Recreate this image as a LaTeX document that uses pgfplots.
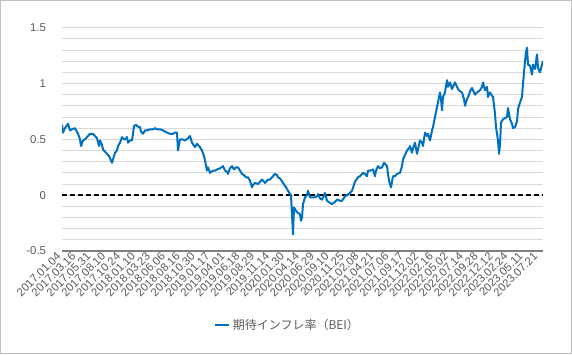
\documentclass[border=0pt]{standalone}
\usepackage{pgfplots}
\pgfplotsset{compat=1.18}
\usepackage{fontspec}
\setmainfont{Liberation Sans}
\newfontfamily\cjk{Noto Sans CJK JP}
\definecolor{txt}{HTML}{595959}
\definecolor{gridc}{HTML}{D9D9D9}
\definecolor{axisc}{HTML}{7F7F7F}
\definecolor{framec}{HTML}{BFBFBF}
\definecolor{bei}{HTML}{0070C0}
\begin{document}
\begin{tikzpicture}
\draw[framec, line width=0.75pt] (0.375pt,0.375pt) rectangle (428.625pt,265.125pt);
\begin{axis}[
  at={(46.5pt,77.25pt)}, anchor=south west,
  scale only axis, width=360.75pt, height=167.5pt,
  xmin=0, xmax=481, ymin=-0.5, ymax=1.5,
  axis x line*=bottom, axis y line*=left,
  x axis line style={-, draw=axisc, line width=1.1pt},
  y axis line style={draw=none},
  tick style={draw=none},
  ytick={-0.5,0,0.5,1,1.5},
  yticklabels={-0.5,0,0.5,1,1.5},
  minor ytick={-0.4,-0.3,-0.2,-0.1,0.1,0.2,0.3,0.4,0.6,0.7,0.8,0.9,1.1,1.2,1.3,1.4},
  ymajorgrids, yminorgrids,
  major grid style={gridc, line width=0.75pt},
  minor grid style={gridc, line width=0.75pt},
  yticklabel style={font=\fontsize{8.5}{10}\selectfont, text=txt, xshift=-8.5pt},
  xtick={0,14.9,29.8,44.7,59.6,74.5,89.4,104.3,119.2,134.1,149,163.9,178.8,193.7,208.6,223.5,238.4,253.3,268.2,283.1,298,312.9,327.8,342.7,357.6,372.5,387.4,402.3,417.2,432.1,447,461.9,476.8},
  xticklabels={2017.01.04,2017.03.16,2017.05.31,2017.08.10,2017.10.24,2018.01.10,2018.03.23,2018.06.06,2018.08.16,2018.10.30,2019.01.17,2019.04.01,2019.06.18,2019.08.29,2019.11.14,2020.01.30,2020.04.14,2020.06.29,2020.09.10,2020.11.25,2021.02.08,2021.04.21,2021.07.06,2021.09.17,2021.12.02,2022.02.16,2022.05.02,2022.07.14,2022.09.28,2022.12.12,2023.02.24,2023.05.11,2023.07.21},
  xticklabel style={font=\fontsize{8.5}{10}\selectfont, text=txt, rotate=45, anchor=east},
  legend style={at={(0.469,-0.332)}, anchor=center, draw=none, fill=none,
    font=\fontsize{9}{11}\selectfont, text=txt},
  legend image code/.code={\draw[#1, line width=1.5pt] (0pt,0pt) -- (11pt,0pt);},
]
\addplot[forget plot, black, line width=1.1pt, dash pattern=on 3.75pt off 2.25pt] coordinates {(0,0) (481,0)};
\addplot[bei, line width=1.5pt, line join=round] coordinates {
(0,0.63)(1,0.56)(3,0.60)(6,0.64)(8,0.58)(10,0.59)(13,0.60)(16,0.55)(18,0.50)(19,0.44)(21,0.49)(23,0.50)(26,0.53)(28,0.55)(31,0.55)(33,0.53)(35,0.51)(37,0.44)(38,0.49)(40,0.45)(41,0.41)(43,0.39)(45,0.37)(47,0.35)(48,0.33)(50,0.29)(51,0.32)(53,0.38)(55,0.40)(56,0.44)(58,0.47)(60,0.52)(62,0.50)(63,0.50)(65,0.52)(66,0.47)(68,0.49)(70,0.49)(71,0.55)(72,0.62)(74,0.63)(75,0.62)(77,0.61)(78,0.61)(79,0.57)(81,0.55)(83,0.58)(85,0.58)(88,0.59)(91,0.59)(93,0.60)(95,0.59)(98,0.59)(101,0.58)(103,0.57)(105,0.56)(108,0.55)(111,0.55)(113,0.56)(115,0.56)(116,0.40)(118,0.50)(120,0.50)(123,0.49)(126,0.51)(128,0.53)(129,0.50)(130,0.47)(133,0.43)(135,0.46)(136,0.45)(138,0.43)(140,0.40)(142,0.35)(143,0.31)(145,0.22)(146,0.25)(148,0.20)(151,0.22)(153,0.22)(155,0.23)(158,0.24)(161,0.26)(163,0.22)(165,0.21)(166,0.19)(168,0.24)(170,0.26)(172,0.23)(174,0.25)(176,0.25)(178,0.22)(180,0.19)(182,0.18)(184,0.16)(186,0.16)(188,0.13)(190,0.07)(191,0.09)(193,0.11)(196,0.10)(198,0.12)(200,0.14)(203,0.11)(206,0.14)(208,0.14)(211,0.17)(213,0.19)(215,0.18)(216,0.16)(218,0.15)(221,0.11)(224,0.07)(226,0.04)(228,0.01)(229,0.0)(230,-0.17)(231,-0.35)(232,-0.11)(234,-0.14)(236,-0.16)(238,-0.17)(239,-0.23)(240,-0.20)(241,-0.08)(243,-0.02)(245,0.00)(246,0.04)(248,-0.02)(250,-0.02)(253,-0.02)(255,-0.01)(256,0.01)(258,-0.03)(260,-0.04)(263,0.02)(265,-0.05)(268,-0.07)(270,-0.08)(273,-0.06)(275,-0.04)(278,-0.05)(280,-0.05)(283,-0.01)(285,0.00)(288,0.02)(290,0.04)(293,0.12)(296,0.16)(298,0.17)(301,0.20)(303,0.19)(305,0.17)(306,0.22)(308,0.22)(311,0.23)(313,0.17)(314,0.22)(316,0.26)(318,0.24)(320,0.25)(322,0.29)(324,0.27)(325,0.26)(326,0.19)(327,0.13)(329,0.07)(331,0.17)(333,0.17)(335,0.19)(338,0.20)(340,0.26)(341,0.32)(343,0.36)(345,0.40)(347,0.42)(348,0.44)(350,0.38)(351,0.42)(353,0.47)(355,0.37)(357,0.45)(358,0.49)(360,0.47)(361,0.44)(363,0.56)(365,0.53)(366,0.55)(368,0.49)(370,0.58)(371,0.61)(373,0.70)(375,0.79)(376,0.83)(378,0.92)(379,0.86)(380,0.76)(381,0.88)(383,0.92)(385,1.03)(386,0.97)(388,1.01)(390,0.95)(392,0.99)(393,1.01)(395,0.97)(396,0.95)(398,0.93)(400,0.92)(402,0.86)(403,0.80)(405,0.86)(407,0.90)(408,0.93)(410,0.96)(411,0.94)(413,0.90)(415,0.92)(418,0.94)(420,0.97)(421,1.01)(423,0.94)(425,0.97)(426,0.88)(428,0.92)(430,0.89)(431,0.88)(433,0.73)(434,0.61)(435,0.55)(436,0.49)(437,0.37)(438,0.45)(439,0.65)(441,0.68)(443,0.69)(445,0.70)(446,0.78)(448,0.68)(450,0.64)(451,0.60)(453,0.61)(455,0.66)(456,0.77)(458,0.83)(460,0.88)(461,1.00)(463,1.20)(464,1.28)(465,1.32)(466,1.17)(468,1.16)(470,1.08)(471,1.17)(473,1.13)(475,1.26)(476,1.14)(478,1.10)(480,1.17)(481,1.20)
};
\addlegendentry{\cjk 期待インフレ率（BEI）}
\end{axis}
\end{tikzpicture}
\end{document}
